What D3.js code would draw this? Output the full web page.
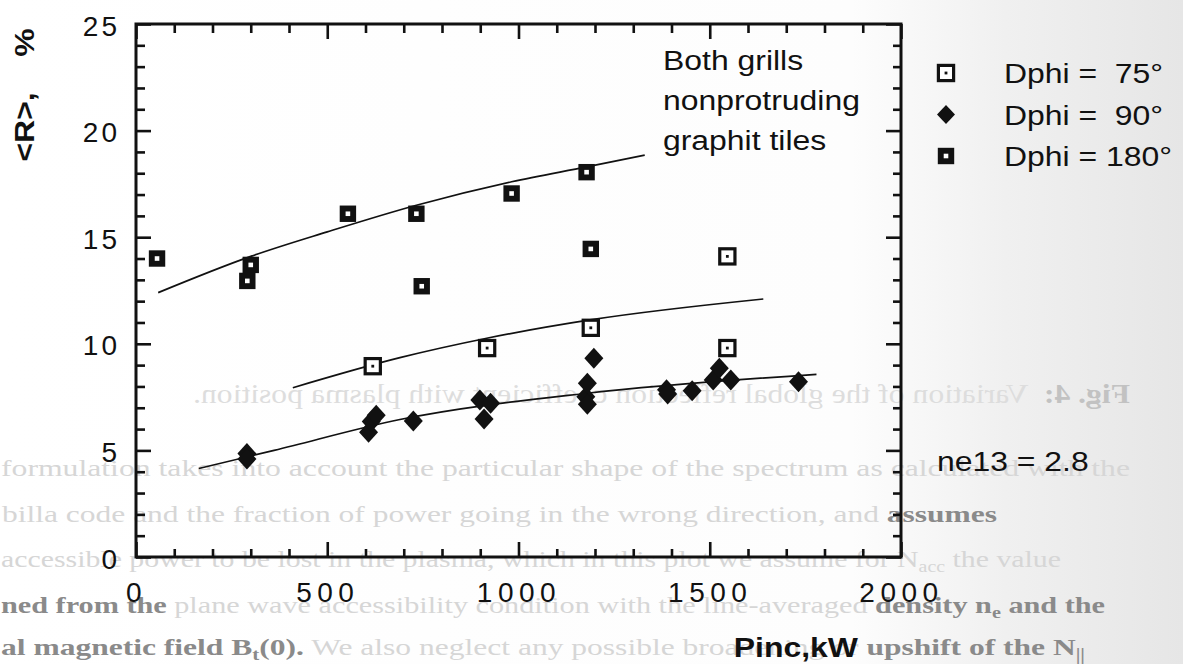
<!DOCTYPE html>
<html>
<head>
<meta charset="utf-8">
<script src="https://cdn.jsdelivr.net/npm/d3@7"></script>
<style>
  html, body { margin: 0; padding: 0; background: #fff; }
  svg { display: block; }
  text { font-family: "Liberation Sans", Arial, Helvetica, sans-serif; fill: #111; white-space: pre; }
  .page text { font-family: "Liberation Serif", "Times New Roman", serif; }
</style>
</head>
<body>
<script>
// Axis ticks
const xTicks = [0, 500, 1000, 1500, 2000];
const yTicks = [0, 5, 10, 15, 20, 25];

// Dphi = 75° (open squares)
const p75 = [619, 918, 1189, 1546, 1546];
const r75 = [8.95, 9.8, 10.75, 14.1, 9.8];

// Dphi = 90° (diamonds)
const p90 = [290, 290, 608, 615, 628, 725, 899, 910, 927, 1176, 1180, 1180, 1197, 1387, 1390, 1454, 1509, 1525, 1555, 1732];
const r90 = [4.85, 4.6, 5.85, 6.35, 6.65, 6.38, 7.36, 6.47, 7.21, 7.52, 7.16, 8.15, 9.32, 7.85, 7.65, 7.8, 8.3, 8.85, 8.3, 8.22];

// Dphi = 180° (heavy squares)
const p180 = [55, 291, 300, 554, 733, 747, 982, 1178, 1189];
const r180 = [14.0, 12.95, 13.7, 16.1, 16.1, 12.7, 17.05, 18.05, 14.45];

// Trend curves
const fitP180 = [58, 300, 500, 733, 982, 1178, 1330];
const fitR180 = [12.4, 14.1, 15.25, 16.5, 17.6, 18.3, 18.85];
const fitP75 = [410, 690, 917, 1187, 1640];
const fitR75 = [7.94, 9.35, 10.26, 11.12, 12.1];
const fitP90 = [164, 361, 690, 1179, 1779];
const fitR90 = [4.15, 5.0, 6.45, 7.68, 8.57];

// Legend and notes
const legendLabels = ["Dphi =  75°", "Dphi =  90°", "Dphi = 180°"];
const noteLines = ["Both grills", "nonprotruding", "graphit tiles"];
const densityNote = "ne13 = 2.8";
const xTitle = "Pinc,kW";
const yTitle = "<R>,    %";

// Printed page around the figure: [text, dark?, subscript?] pieces per line
const pageLines = [
  [["formulation takes into account the particular shape of the spectrum as calculated with the", 0]],
  [["billa code and the fraction of power going in the wrong direction, and ", 0], ["assumes", 1]],
  [["accessible power to be lost in the plasma, which in this plot we assume for N", 0], ["acc", 0, 1], [" the value", 0]],
  [["ned from the", 1], [" plane wave accessibility condition with the line-averaged ", 0], ["density n", 1], ["e", 1, 1], [" and the", 1]],
  [["al magnetic field B", 1], ["t", 1, 1], ["(0).", 1], [" We also neglect any possible broadening or ", 0], ["upshift of the N", 1], ["||", 1, 1]]
];
const pageSpans = [[1, 1130], [2, 997], [1, 1061], [1, 1105], [1, 1085]];
const pageBaselines = [476, 522, 567, 613, 655];
const reverseCaption = [["Fig. 4:", 1], ["  Variation of the global reflection coefficient with plasma position.", 0]];

const W = 1183, H = 664;
const margin = { left: 136, top: 24, right: 282, bottom: 107 };
const iw = W - margin.left - margin.right;   // 765
const ih = H - margin.top - margin.bottom;    // 533
const SX = 1.14; // horizontal stretch of the lettering

const svg = d3.select("body").append("svg").attr("width", W).attr("height", H);

// paper tone: white, greying towards the right edge
const defs = svg.append("defs");
const grad = defs.append("linearGradient").attr("id", "paper").attr("x1", 0).attr("x2", 1).attr("y1", 0).attr("y2", 0);
grad.append("stop").attr("offset", "0").attr("stop-color", "#ffffff");
grad.append("stop").attr("offset", "0.72").attr("stop-color", "#fdfdfd");
grad.append("stop").attr("offset", "0.85").attr("stop-color", "#f0f0f0");
grad.append("stop").attr("offset", "1").attr("stop-color", "#e6e6e6");
svg.append("rect").attr("width", W).attr("height", H).attr("fill", "url(#paper)");

// faint page text behind the figure
const page = svg.append("g").attr("class", "page");
pageLines.forEach((pieces, i) => {
  const [x0, x1] = pageSpans[i];
  const t = page.append("text").attr("x", x0).attr("y", pageBaselines[i])
    .attr("textLength", x1 - x0).attr("lengthAdjust", "spacingAndGlyphs")
    .style("font-size", "24px");
  let shifted = false;
  pieces.forEach(([s, dark, sub]) => {
    const ts = t.append("tspan").text(s)
      .attr("fill", dark ? "#8a8a8a" : "#d6d6d6")
      .style("font-weight", dark ? "bold" : "normal");
    if (sub && !shifted) { ts.attr("dy", 5).style("font-size", "16px"); shifted = true; }
    else if (sub) { ts.style("font-size", "16px"); }
    else if (shifted) { ts.attr("dy", -5); shifted = false; }
  });
});
const cap = page.append("text")
  .attr("transform", "translate(1130,403) scale(-1,1)")
  .attr("textLength", 937).attr("lengthAdjust", "spacingAndGlyphs")
  .style("font-size", "27px");
reverseCaption.forEach(([s, dark]) => {
  cap.append("tspan").text(s).attr("fill", dark ? "#c2c2c2" : "#dddddd")
    .style("font-weight", dark ? "bold" : "normal");
});

const g = svg.append("g").attr("transform", `translate(${margin.left},${margin.top})`);

const x = d3.scaleLinear().domain([0, 2000]).range([0, iw]);
const y = d3.scaleLinear().domain([0, 25]).range([ih, 0]);

const minorX = d3.range(0, 2001, 100);
const minorY = d3.range(0, 26, 1);
const isMajorX = d => xTicks.includes(d);
const isMajorY = d => yTicks.includes(d);

function styleAxis(sel) {
  sel.select(".domain").remove();
  sel.selectAll(".tick line").attr("stroke", "#111").attr("stroke-width", 2.6);
}

// bottom axis
const gx = g.append("g").attr("transform", `translate(0,${ih})`)
  .call(d3.axisBottom(x).tickValues(minorX).tickSizeInner(-8).tickSizeOuter(0)
    .tickFormat(d => isMajorX(d) ? String(d) : ""));
styleAxis(gx);
gx.selectAll(".tick").filter(isMajorX).select("line").attr("y2", -15);
gx.selectAll(".tick text").attr("y", 45).attr("dy", 0)
  .style("font-size", "28px").style("letter-spacing", "5.5px").attr("fill", "#111");

// top axis
const gt = g.append("g")
  .call(d3.axisTop(x).tickValues(minorX).tickSizeInner(-9).tickSizeOuter(0).tickFormat(""));
styleAxis(gt);
gt.selectAll(".tick").filter(isMajorX).select("line").attr("y2", 15);

// left axis
const gy = g.append("g")
  .call(d3.axisLeft(y).tickValues(minorY).tickSizeInner(-9).tickSizeOuter(0)
    .tickFormat(d => isMajorY(d) ? String(d) : ""));
styleAxis(gy);
gy.selectAll(".tick").filter(isMajorY).select("line").attr("x2", 15);
gy.selectAll(".tick text").attr("x", -16).attr("dy", 0).attr("y", 11)
  .style("font-size", "28px").style("letter-spacing", "3px").attr("fill", "#111");

// right axis
const gr = g.append("g").attr("transform", `translate(${iw},0)`)
  .call(d3.axisRight(y).tickValues(minorY).tickSizeInner(-8).tickSizeOuter(0).tickFormat(""));
styleAxis(gr);
gr.selectAll(".tick").filter(isMajorY).select("line").attr("x2", -15);

// frame
g.append("rect").attr("width", iw).attr("height", ih)
  .attr("fill", "none").attr("stroke", "#111").attr("stroke-width", 3);

// trend curves
const line = d3.line().x(d => x(d[0])).y(d => y(d[1])).curve(d3.curveMonotoneX);
[[fitP180, fitR180], [fitP75, fitR75], [fitP90, fitR90]].forEach(([px, ry]) => {
  g.append("path").datum(px.map((p, i) => [p, ry[i]]))
    .attr("d", line).attr("fill", "none").attr("stroke", "#111").attr("stroke-width", 1.7);
});

// marker painters
function drawOpenSquare(sel) {
  sel.append("rect").attr("x", -7.6).attr("y", -7.6).attr("width", 15.2).attr("height", 15.2)
    .attr("fill", "#fff").attr("stroke", "#111").attr("stroke-width", 3.2);
  sel.append("rect").attr("x", -1.4).attr("y", -1.4).attr("width", 2.8).attr("height", 2.8).attr("fill", "#111");
}
function drawHeavySquare(sel) {
  sel.append("rect").attr("x", -8.2).attr("y", -8.2).attr("width", 16.4).attr("height", 16.4).attr("fill", "#111");
  sel.append("rect").attr("x", -2.3).attr("y", -2.3).attr("width", 4.6).attr("height", 4.6).attr("fill", "#fff");
}
function drawDiamond(sel, rx = 9.5, ry = 10.5) {
  sel.append("path").attr("d", `M0,${-ry}L${rx},0L0,${ry}L${-rx},0Z`).attr("fill", "#111");
}

// Dphi = 90°
g.append("g").selectAll("g").data(p90.map((p, i) => [p, r90[i]])).join("g")
  .attr("transform", d => `translate(${x(d[0])},${y(d[1])})`).each(function () { drawDiamond(d3.select(this)); });
// Dphi = 180°
g.append("g").selectAll("g").data(p180.map((p, i) => [p, r180[i]])).join("g")
  .attr("transform", d => `translate(${x(d[0])},${y(d[1])})`).each(function () { drawHeavySquare(d3.select(this)); });
// Dphi = 75°
g.append("g").selectAll("g").data(p75.map((p, i) => [p, r75[i]])).join("g")
  .attr("transform", d => `translate(${x(d[0])},${y(d[1])})`).each(function () { drawOpenSquare(d3.select(this)); });

// stretched text helper
function label(parent, str, tx, ty, opts = {}) {
  return parent.append("text")
    .attr("transform", `translate(${tx},${ty}) rotate(${opts.rotate || 0}) scale(${SX},1)`)
    .attr("text-anchor", opts.anchor || "start")
    .style("font-size", (opts.size || 28) + "px")
    .style("font-weight", opts.bold ? "bold" : "normal")
    .text(str);
}

// note inside plot
noteLines.forEach((s, i) => label(svg, s, 663, 70 + i * 40));

// legend
const legend = svg.append("g");
legendLabels.forEach((s, i) => {
  const cy = 73 + i * 41.5;
  const m = legend.append("g").attr("transform", `translate(946,${cy})`);
  if (i === 0) drawOpenSquare(m);
  else if (i === 1) drawDiamond(m, 9, 9.5);
  else drawHeavySquare(m);
  label(legend, s, 1004, cy + 10);
});

// density note
label(svg, densityNote, 937, 471);

// axis titles
label(svg, xTitle, margin.left + x(1725), 657, { bold: true, anchor: "middle" });
label(svg, yTitle, 34, 95, { bold: true, anchor: "middle", rotate: -90 });
</script>
</body>
</html>
